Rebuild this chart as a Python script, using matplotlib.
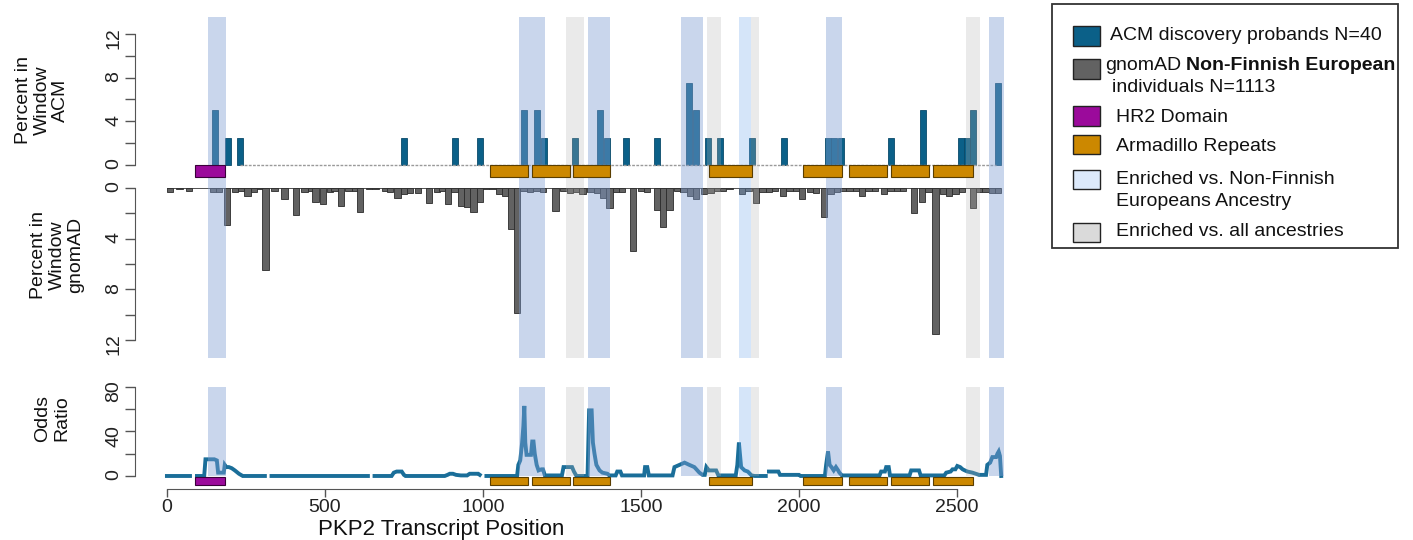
import numpy as np
import matplotlib
matplotlib.use("Agg")
import matplotlib.pyplot as plt
from matplotlib.patches import Rectangle

plt.rcParams['font.family'] = ['Liberation Sans', 'DejaVu Sans']

# ---- data ----
# ACM discovery probands: percent of variants in window
acm_pos = [152, 193, 231, 750, 911, 990, 1130, 1171, 1193, 1291, 1370, 1392, 1452,
           1550, 1652, 1674, 1712, 1750, 1851, 1953, 2092, 2111, 2133, 2291, 2392,
           2513, 2532, 2551, 2630]
acm_pct = [5.0, 2.5, 2.5, 2.5, 2.5, 2.5, 5.0, 5.0, 2.5, 2.5, 5.0, 2.5, 2.5,
           2.5, 7.5, 5.0, 2.5, 2.5, 2.5, 2.5, 2.5, 2.5, 2.5, 2.5, 5.0,
           2.5, 2.5, 5.0, 7.5]

# gnomAD NFE: percent of variants in window
gnom_pos = [10, 40, 70, 145, 165, 190, 215, 235, 255, 275, 295, 312, 340, 372, 408,
            435, 455, 470, 493, 515, 530, 550, 575, 595, 612, 640, 660, 690, 705,
            730, 750, 770, 795, 830, 855, 870, 890, 910, 930, 950, 970, 990, 1010,
            1030, 1050, 1070, 1090, 1108, 1128, 1150, 1170, 1190, 1230, 1255, 1275,
            1295, 1315, 1340, 1360, 1380, 1400, 1420, 1440, 1475, 1500, 1520, 1550,
            1570, 1590, 1615, 1635, 1655, 1675, 1700, 1720, 1740, 1760, 1780, 1820,
            1840, 1865, 1885, 1905, 1925, 1950, 1970, 1990, 2010, 2035, 2055, 2080,
            2100, 2120, 2140, 2160, 2180, 2200, 2220, 2240, 2270, 2290, 2310, 2330,
            2365, 2390, 2410, 2432, 2455, 2475, 2495, 2515, 2550, 2570, 2590, 2610,
            2630]
gnom_pct = [0.3, 0.1, 0.2, 0.3, 0.3, 2.9, 0.3, 0.2, 0.6, 0.3, 0.1, 6.5, 0.2, 0.9, 2.1,
            0.3, 0.2, 1.1, 1.3, 0.3, 0.2, 1.4, 0.2, 0.2, 1.9, 0.1, 0.1, 0.2, 0.3,
            0.8, 0.5, 0.4, 0.4, 1.2, 0.3, 0.2, 1.3, 0.3, 1.4, 1.5, 1.9, 1.1, 0.1,
            0.1, 0.5, 0.6, 3.2, 9.9, 0.2, 0.3, 0.2, 0.3, 1.8, 0.2, 0.4,
            0.3, 0.5, 0.3, 0.4, 0.8, 1.6, 0.3, 0.3, 5.0, 0.2, 0.3, 1.7,
            3.1, 1.7, 0.2, 0.3, 0.6, 0.9, 0.5, 0.4, 0.2, 0.2, 0.1, 0.5,
            0.2, 1.2, 0.3, 0.3, 0.2, 0.6, 0.2, 0.2, 0.9, 0.3, 0.4, 2.3,
            0.5, 0.3, 0.2, 0.2, 0.2, 0.6, 0.2, 0.2, 0.5, 0.2, 0.2, 0.2,
            2.0, 1.1, 0.3, 11.5, 0.5, 0.6, 0.5, 0.3, 1.6, 0.3, 0.3, 0.4,
            0.4]

# odds ratio trace (nan = gap)
nan = np.nan
or_pos = [0, 73, nan, 95, 118, 122, 150, 158, 162, 180, 183, 188, 196, 205, 215, 228, 240, 310, nan,
          331, 636, nan, 657, 711, 718, 727, 743, 750, 755, 879, 888, 895, 905, 915, 930, 950,
          958, 965, 985, 990, nan, 1011, 1108, 1112, 1118, 1124, 1128, 1131, 1134, 1138, 1152,
          1156, 1160, 1164, 1170, 1176, 1185, 1190, 1196, 1250, 1255, 1268, 1275, 1282, 1288,
          1296, 1331, 1336, 1344, 1348, 1353, 1359, 1369, 1378, 1394, 1400, 1420, 1425, 1435,
          1440, 1510, 1513, 1520, 1525, 1600, 1606, 1622, 1638, 1653, 1669, 1685, 1695, 1702,
          1707, 1715, 1722, 1738, 1745, 1800, 1805, 1810, 1817, 1828, 1838, 1850, 1860, 1895,
          nan, 1905, 1935, 1940, 2000, 2005, 2082, 2086, 2092, 2097, 2103, 2110, 2117, 2124,
          2128, 2136, 2255, 2260, 2272, 2276, 2284, 2288, 2350, 2355, 2380, 2385, 2460, 2466,
          2480, 2486, 2495, 2501, 2510, 2518, 2525, 2533, 2549, 2560, 2570, 2592, 2596, 2605,
          2612, 2624, 2628, 2632, 2636, 2640]
or_val = [0, 0, nan, 0, 0, 15, 15, 14, 3, 3, 10, 8, 8, 7, 5, 2, 0, 0, nan,
          0, 0, nan, 0, 0, 3, 4, 4, 1, 0, 0, 1, 2, 2, 1, 0.5, 0.5,
          2, 2, 2, 1, nan, 0, 0, 10, 14, 30, 45, 63, 30, 19, 19,
          31, 31, 20, 10, 5, 6, 6, 0.5, 0.5, 8, 8, 8, 8, 4,
          0, 0, 59, 59, 30, 20, 10, 5, 3, 2, 0.5, 0.5, 4, 4,
          0.5, 0.5, 8, 8, 0.5, 0.5, 8, 10, 12, 10, 8, 3, 1, 1,
          8, 5, 5, 5, 0.5, 0.5, 10, 30, 8, 5, 4, 0.5, 0, 0,
          nan, 4, 4, 1, 1, 0, 0, 10, 22, 10, 8, 5, 8, 5,
          3, 0.5, 0.5, 4, 4, 8, 8, 0.5, 0.5, 5, 5, 0.5, 0.5, 3,
          4, 6, 6, 9, 8, 6, 5, 4, 3, 2, 1, 1, 10, 12,
          17, 17, 20, 22, 18, 0]

# domains
hr2_domain = [(89, 183)]
arm_repeats = [(1022, 1142), (1155, 1275), (1284, 1402), (1715, 1851),
               (2013, 2136), (2158, 2278), (2291, 2411), (2424, 2551)]

# enrichment windows
both_regions = [(130, 187), (1114, 1196), (1333, 1402), (1627, 1696), (2085, 2136), (2601, 2649)]
nfe_only_regions = [(1810, 1848)]
all_only_regions = [(1263, 1320), (1709, 1753), (1848, 1873), (2528, 2573)]

# ---- styles ----
acm_color = '#0b6088'
gnom_color = '#626262'
or_color = '#1a6e99'
hr2_color = '#9b0a9b'
arm_color = '#cc8800'
both_shade = (128/255, 159/255, 211/255, 0.42)
nfe_shade = (118/255, 172/255, 238/255, 0.30)
all_shade = (180/255, 180/255, 180/255, 0.27)

W, H = 1413, 540
fig = plt.figure(figsize=(W / 100, H / 100), dpi=100)


def fx(px):
    return px / W


def fy(py):
    return 1 - py / H


left, right = 135, 1005
ax_top = fig.add_axes([fx(left), fy(188), (right - left) / W, (188 - 17) / H])
ax_mid = fig.add_axes([fx(left), fy(358), (right - left) / W, (358 - 188) / H])
ax_or = fig.add_axes([fx(left), fy(489), (right - left) / W, (489 - 387) / H])

for ax in (ax_top, ax_mid, ax_or):
    ax.set_xlim(-101, 2652)
    ax.set_facecolor('none')
    for s in ('top', 'right'):
        ax.spines[s].set_visible(False)
    ax.spines['left'].set_color('#555555')
    ax.tick_params(axis='y', length=7, width=1, color='#555555', labelsize=14,
                   pad=2, labelrotation=90, labelcolor='#222222')

for ax in (ax_top, ax_mid):
    ax.spines['bottom'].set_visible(False)
    ax.xaxis.set_visible(False)


def shade(ax, bottom=None, top=None):
    for regions, color in ((both_regions, both_shade), (nfe_only_regions, nfe_shade),
                           (all_only_regions, all_shade)):
        for a, b in regions:
            if bottom is None:
                ax.axvspan(a, b, color=color, lw=0, zorder=2)
            else:
                ax.bar(a, top - bottom, width=b - a, bottom=bottom, align='edge',
                       color=color, lw=0, zorder=2)


def domains(ax, y0, h):
    for a, b in hr2_domain:
        ax.bar(a, h, width=b - a, bottom=y0, align='edge', color=hr2_color,
               edgecolor='#3a003a', lw=0.8, zorder=3)
    for a, b in arm_repeats:
        ax.bar(a, h, width=b - a, bottom=y0, align='edge', color=arm_color,
               edgecolor='#5a3e00', lw=0.8, zorder=3)


# top panel: ACM
ax_top.set_ylim(-2.1, 13.55)
ax_top.bar(acm_pos, acm_pct, width=20, color=acm_color, edgecolor='#0a4a6a', lw=0.6, zorder=1)
ax_top.hlines(0, 230, 2625, color='#9a9a9a', lw=1, linestyles=(0, (2, 1)), zorder=1)
shade(ax_top)
domains(ax_top, 0, -1.1)
ax_top.set_yticks([0, 2, 4, 6, 8, 10, 12])
ax_top.set_yticklabels(['0', '', '4', '', '8', '', '12'])
ax_top.spines['left'].set_bounds(0, 12)

# middle panel: gnomAD (inverted)
ax_mid.set_ylim(13.42, 0)
ax_mid.bar(gnom_pos, gnom_pct, width=20, color=gnom_color, edgecolor='#2b2b2b', lw=0.6, zorder=1)
ax_mid.hlines(0, 0, 2640, color='#333333', lw=1.2, zorder=1.5)
shade(ax_mid)
ax_mid.set_yticks([0, 2, 4, 6, 8, 10, 12])
ax_mid.set_yticklabels(['0', '', '4', '', '8', '', '12'])
ax_mid.spines['left'].set_bounds(0, 12)

# bottom panel: odds ratio
ax_or.set_ylim(-11.7, 80)
ax_or.plot(or_pos, or_val, color=or_color, lw=2.8, zorder=1, solid_joinstyle='miter')
shade(ax_or, 0, 80)
domains(ax_or, -1.3, -7.2)
ax_or.set_yticks([0, 20, 40, 60, 80])
ax_or.set_yticklabels(['0', '', '40', '', '80'])
ax_or.spines['left'].set_bounds(0, 80)
ax_or.spines['bottom'].set_bounds(0, 2500)
ax_or.spines['bottom'].set_color('#555555')
ax_or.set_xticks([0, 500, 1000, 1500, 2000, 2500])
ax_or.tick_params(axis='x', length=6, width=1, color='#555555', labelsize=14,
                  pad=1, labelcolor='#222222')

# axis titles
fig.text(fx(42), fy(100), 'Percent in\nWindow\nACM', rotation=90, ha='center', va='center',
         fontsize=14, linespacing=1.15, color='#111111')
fig.text(fx(57), fy(255), 'Percent in\nWindow\ngnomAD', rotation=90, ha='center', va='center',
         fontsize=14, linespacing=1.15, color='#111111')
fig.text(fx(52), fy(418), 'Odds\nRatio', rotation=90, ha='center', va='center',
         fontsize=14, linespacing=1.15, color='#111111')
fig.text(fx(441), fy(529), 'PKP2 Transcript Position', ha='center', va='center',
         fontsize=16, color='#111111')

# legend drawn by hand
fig.patches.append(Rectangle((fx(1052), fy(248)), (1398 - 1052) / W, (248 - 4) / H,
                             transform=fig.transFigure, fill=False, edgecolor='#333333', lw=1.3))


def swatch(yc, color):
    fig.patches.append(Rectangle((fx(1073), fy(yc + 9.5)), 27 / W, 19 / H,
                                 transform=fig.transFigure, facecolor=color,
                                 edgecolor='#222222', lw=1))


swatch(36, acm_color)
swatch(69, gnom_color)
swatch(116, hr2_color)
swatch(144, arm_color)
swatch(180, '#dce9fa')
swatch(232, '#dadada')

lk = dict(fontsize=14, va='center', ha='left', color='#111111')
fig.text(fx(1110), fy(36), 'ACM discovery probands N=40', **lk)
t1 = fig.text(fx(1105), fy(65), 'gnomAD', **lk)
fig.canvas.draw()
bb = t1.get_window_extent(fig.canvas.get_renderer())
fig.text(bb.x1 / W + 5 / W, fy(65), 'Non-Finnish European', fontweight='bold', **lk)
fig.text(fx(1112), fy(87), 'individuals N=1113', **lk)
fig.text(fx(1116), fy(118), 'HR2 Domain', **lk)
fig.text(fx(1116), fy(147), 'Armadillo Repeats', **lk)
fig.text(fx(1116), fy(180), 'Enriched vs. Non-Finnish', **lk)
fig.text(fx(1116), fy(202), 'Europeans Ancestry', **lk)
fig.text(fx(1116), fy(232), 'Enriched vs. all ancestries', **lk)

fig.savefig('out.png', dpi=100)
